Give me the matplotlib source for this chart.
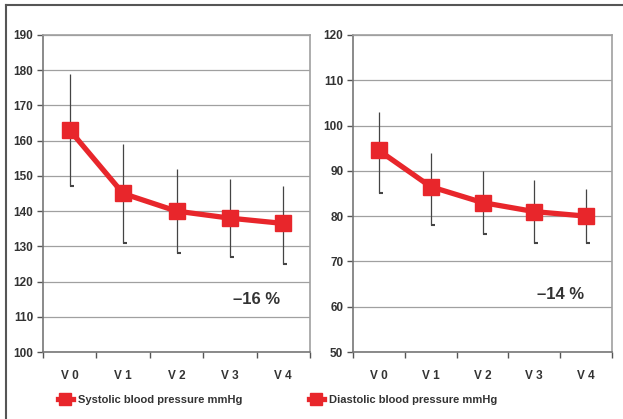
import matplotlib
matplotlib.use("Agg")
import matplotlib.pyplot as plt
import numpy as np
from matplotlib.lines import Line2D

plt.rcParams['font.family'] = ['Liberation Sans', 'DejaVu Sans']

visits = ["V 0", "V 1", "V 2", "V 3", "V 4"]

sys_mean = [163, 145, 140, 138, 136.5]
sys_upper = [179, 159, 152, 149, 147]
sys_lower = [147, 131, 128, 127, 125]

dia_mean = [94.5, 86.5, 83, 81, 80]
dia_upper = [103, 94, 90, 88, 86]
dia_lower = [85, 78, 76, 74, 74]

red = "#e8262b"
dark = "#555555"
txt = "#333333"

W, H = 623, 419
fig = plt.figure(figsize=(6.23, 4.19), dpi=100)

def panel(rect, mean, upper, lower, ylim, label, pct, pct_xy, leg_x):
    ax = fig.add_axes([rect[0] / W, 1 - rect[3] / H, (rect[2] - rect[0]) / W, (rect[3] - rect[1]) / H])
    x = np.arange(len(visits))
    mean = np.array(mean)
    yerr = [mean - np.array(lower), np.array(upper) - mean]
    ax.errorbar(x, mean, yerr=yerr, fmt='none', ecolor="#444444", elinewidth=0.9, zorder=2)
    ax.plot(x + 0.04, lower, ls='none', marker='_', ms=3, mew=1.5, color="#444444", zorder=2)
    ax.plot(x, mean, color=red, lw=3.8, marker='s', ms=12, zorder=3, label=label)
    ax.set_xlim(-0.5, len(visits) - 0.5)
    ax.set_ylim(*ylim)
    ax.set_yticks(np.arange(ylim[0], ylim[1] + 1, 10))
    ax.yaxis.grid(True, color="#a0a0a0", lw=0.9)
    ax.set_axisbelow(True)
    ax.set_xticks(x)
    ax.set_xticklabels(visits)
    ax.set_xticks(np.arange(-0.5, len(visits), 1), minor=True)
    ax.tick_params(axis='x', which='major', length=0, pad=13, labelsize=8.5, labelcolor=txt)
    ax.tick_params(axis='x', which='minor', length=4, width=1, color=dark, direction='out')
    ax.tick_params(axis='y', length=4, width=1, color=dark, direction='out', labelsize=8.5, labelcolor=txt, pad=3)
    for t in ax.get_xticklabels() + ax.get_yticklabels():
        t.set_fontweight('bold')
    for s in ['left', 'bottom']:
        ax.spines[s].set_color("#777777")
        ax.spines[s].set_linewidth(1.2)
    for s in ['top', 'right']:
        ax.spines[s].set_color("#a0a0a0")
        ax.spines[s].set_linewidth(1.2)
    ax.text(pct_xy[0], pct_xy[1], pct, fontsize=12, fontweight='bold', color=txt,
            ha='center', va='center')
    ax.legend(loc='center left', bbox_to_anchor=(leg_x / W, 1 - 400 / H),
              bbox_transform=fig.transFigure, frameon=False, borderpad=0,
              handlelength=1.4, handletextpad=0.4, markerscale=0.75,
              prop={'size': 8, 'weight': 'bold'}, labelcolor=txt)
    return ax

panel((43, 35, 310, 352), sys_mean, sys_upper, sys_lower, (100, 190),
      "Systolic blood pressure mmHg", "–16 %", (3.5, 115), 52)
panel((353, 35, 612, 352), dia_mean, dia_upper, dia_lower, (50, 120),
      "Diastolic blood pressure mmHg", "–14 %", (3.5, 62.6), 303)

# outer frame (top and left)
fig.add_artist(Line2D([6 / W, 1], [1 - 5 / H, 1 - 5 / H], transform=fig.transFigure, color=dark, lw=1.5))
fig.add_artist(Line2D([6 / W, 6 / W], [0, 1 - 5 / H], transform=fig.transFigure, color=dark, lw=1.5))

plt.savefig("out.png", dpi=100)
